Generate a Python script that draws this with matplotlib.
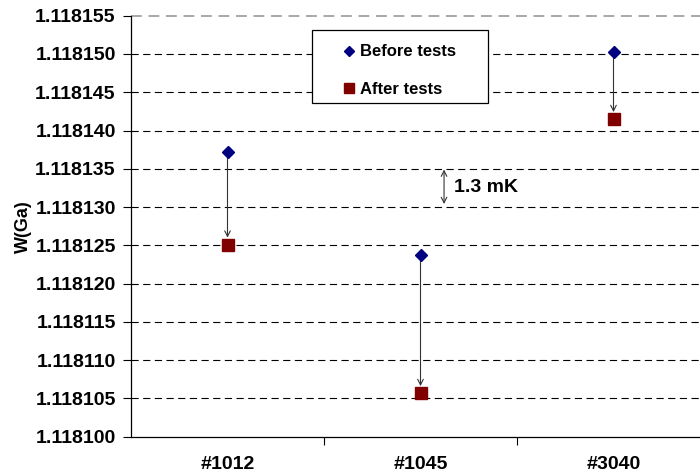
import matplotlib
matplotlib.use("Agg")
import matplotlib.pyplot as plt
from matplotlib.patches import Rectangle

plt.rcParams['font.family'] = ['Liberation Sans', 'DejaVu Sans']
plt.rcParams['font.weight'] = 'bold'

categories = ['#1012', '#1045', '#3040']
before = [1.1181372, 1.1181237, 1.1181503]
after = [1.1181251, 1.1181057, 1.1181415]
yticks = [1.118100 + 0.000005 * i for i in range(12)]

W, H = 700, 475
fig = plt.figure(figsize=(7, 4.75), dpi=100)
left, right, top, bottom = 131, 710, 15.7, 436.7
ax = fig.add_axes([left / W, 1 - bottom / H, (right - left) / W, (bottom - top) / H])

x = list(range(len(categories)))
ax.set_xlim(-0.5, len(categories) - 0.5)
ax.set_ylim(1.118100, 1.118155)

ax.set_yticks(yticks)
ax.set_yticklabels([f"{v:.6f}" for v in yticks], fontsize=14, fontweight='bold')
ax.set_xticks(x)
ax.set_xticklabels(categories, fontsize=14, fontweight='bold')
ax.set_xticks([i + 0.5 for i in x[:-1]], minor=True)
ax.tick_params(axis='x', which='major', length=0, pad=14)
ax.tick_params(axis='x', which='minor', length=6, direction='out', width=0.8)
ax.tick_params(axis='y', length=6, direction='out', width=0.8, pad=5)

for v in yticks[1:-1]:
    ax.axhline(v, color='black', lw=0.8, ls=(0, (6.5, 4)), zorder=0)
ax.axhline(yticks[-1], color='#999999', lw=1.2, ls=(0, (6.5, 4)), zorder=0, clip_on=False)

for s in ['top', 'right']:
    ax.spines[s].set_visible(False)
ax.spines['left'].set_linewidth(0.9)
ax.spines['bottom'].set_linewidth(0.9)

for xi, b, a in zip(x, before, after):
    ax.annotate('', xy=(xi, a), xytext=(xi, b),
                arrowprops=dict(arrowstyle='->', color='#333333', lw=0.8,
                                shrinkA=0, shrinkB=5, mutation_scale=10))

ax.plot(x, before, ls='none', marker='D', ms=6, color='#000080', label='Before tests', zorder=3)
ax.plot(x, after, ls='none', marker='s', ms=8, color='#800000', label='After tests', zorder=3)

# 1.3 mK scale indicator
ax.annotate('', xy=(1.122, 1.1181304), xytext=(1.122, 1.1181349),
            arrowprops=dict(arrowstyle='<->', color='#333333', lw=0.8,
                            shrinkA=0, shrinkB=0, mutation_scale=10))
ax.text(1.172, 1.1181326, '1.3 mK', fontsize=14, fontweight='bold', va='center', ha='left')

ax.set_ylabel('W(Ga)', fontsize=13, fontweight='bold')
ax.yaxis.set_label_coords(-0.171, 0.5)

# legend frame
fig.add_artist(Rectangle((312 / W, 1 - 103 / H), 176 / W, 73 / H, transform=fig.transFigure,
                         facecolor='white', edgecolor='black', lw=0.9, zorder=4))
leg = fig.legend(loc='upper left', bbox_to_anchor=(342 / W, 1 - 44.5 / H),
                 bbox_transform=fig.transFigure, borderaxespad=0, borderpad=0,
                 frameon=False, prop={'size': 12, 'weight': 'bold'}, handlelength=0.85,
                 handletextpad=0.25, labelspacing=1.36, numpoints=1, markerscale=0.9)
leg.set_zorder(5)

fig.savefig('out.png', dpi=100)
